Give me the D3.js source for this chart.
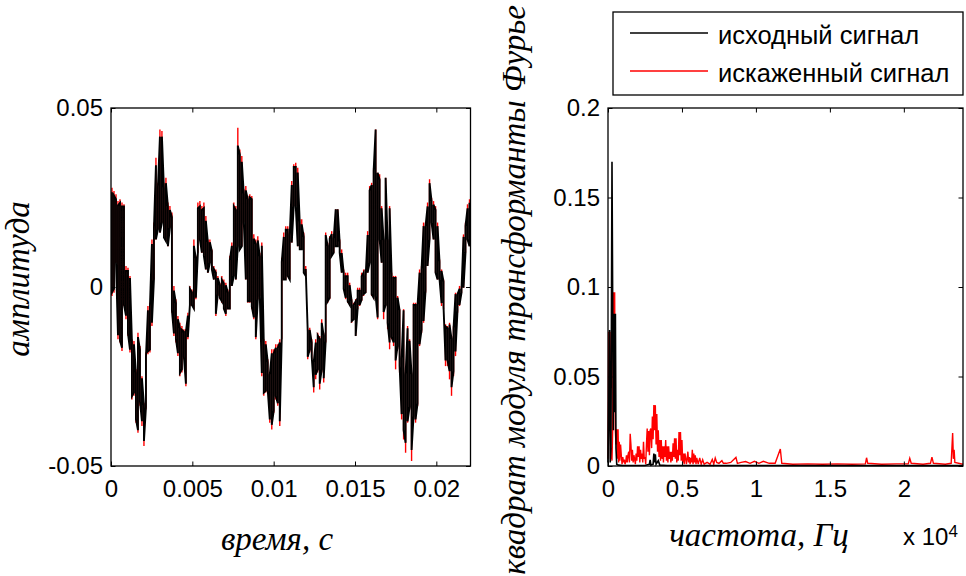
<!doctype html>
<html lang="ru">
<head>
<meta charset="utf-8">
<script src="https://d3js.org/d3.v7.min.js"></script>
<style>
  body { margin: 0; background: #fff; }
  svg { display: block; }
  .tick text { font-family: "Liberation Sans", Arial, sans-serif; font-size: 24px; fill: #000; }
  .domain { display: none; }
  .tick line { stroke: #000; stroke-width: 1; }
  .lbl { font-family: "Liberation Serif", "Times New Roman", serif; font-style: italic; font-size: 33px; fill: #000; }
  .leg { font-family: "Liberation Sans", Arial, sans-serif; font-size: 25.5px; fill: #000; }
  .mult { font-family: "Liberation Sans", Arial, sans-serif; font-size: 24px; fill: #000; }
</style>
</head>
<body>
<svg width="966" height="576"></svg>
<script>
// time signal envelope per sample column, in units of 1e-3 (amplitude)
const redHi = [27.7,26.8,25.9,24.0,24.5,23.6,23.1,5.9,5.4,3.1,-14.6,-15.1,-23.0,-12.8,-16.5,-24.9,-32.3,-18.3,-5.3,-4.4,
  13.3,18.0,36.1,29.1,44.0,43.6,29.1,30.5,23.6,22.6,20.8,0.3,-3.4,-8.1,-10.0,-10.9,-11.8,-11.8,-7.2,0.3,
  -0.7,13.3,8.7,23.6,24.0,22.6,23.6,19.8,13.3,13.3,10.5,5.9,4.9,3.1,1.2,3.1,2.1,1.2,-0.7,8.7,
  12.4,23.6,22.6,44.5,38.4,36.6,27.3,28.2,25.4,25.9,25.4,14.7,13.3,14.2,9.6,12.4,-14.6,-15.1,-20.2,-23.9,
  -17.4,-17.4,-16.0,-16.0,-14.6,8.2,15.2,17.0,17.0,
  15.2,29.6,34.3,34.7,33.3,18.9,18.9,15.2,5.9,-11.8,-11.4,-14.6,-20.2,-14.6,-12.8,-13.7,-9.0,-12.8,15.2,12.4,
  14.2,15.6,14.2,21.7,21.7,13.3,10.5,4.9,4.0,4.0,1.2,-3.4,-4.4,-3.4,-0.2,-0.2,4.0,4.9,4.0,15.6,
  28.2,29.1,33.3,44.0,31.9,31.5,22.6,13.3,30.5,13.3,22.6,4.0,3.1,3.1,-2.5,-6.2,-19.3,-6.2,-23.9,-10.9,
  -14.6,-23.9,-4.4,-4.4,-4.4,4.9,5.9,18.0,18.0,23.6,30.1,24.9,24.0,22.6,18.0,7.7,4.9,2.1,-10.4,-10.9,
  -10.0,-13.7,-10.9,-1.6,-1.6,0.3,0.3,14.7,18.0,23.1,24.5];
const redLo = [-2.5,-1.6,6.8,-14.6,-15.5,-17.9,-5.3,-9.0,-13.7,-18.3,-31.4,-30.4,-37.9,-40.7,-33.2,-38.8,-44.4,-34.2,-18.8,-18.3,
  -10.9,2.1,13.3,16.1,15.2,18.0,13.8,12.8,11.4,16.6,-7.2,-13.7,-15.5,-19.3,-24.9,-23.9,-20.2,-27.7,-14.6,-5.3,
  -5.3,-6.2,-3.4,9.6,13.3,9.6,8.7,4.9,4.0,6.8,4.9,2.1,-8.1,-2.5,-3.4,-4.4,-6.2,-8.1,-6.2,-6.2,
  0.3,3.1,2.1,11.4,10.5,11.4,18.0,2.1,-4.4,-4.4,-6.2,-9.0,-14.6,-3.4,-2.5,-24.9,-30.4,-29.5,-29.5,-37.9,
  -39.8,-35.1,-31.4,-33.2,-38.8,-14.6,2.1,2.1,3.1,
  2.1,12.4,22.6,22.6,11.4,10.5,10.5,4.0,3.1,-20.2,-18.3,-20.2,-29.5,-25.8,-23.9,-28.6,-23.9,-26.7,-15.5,-4.4,
  -3.4,8.7,9.6,11.4,11.4,9.6,4.0,-0.7,-3.4,-4.4,-5.3,-10.0,-9.0,-13.7,-6.2,-5.3,-3.9,-2.5,-1.6,4.0,
  6.8,-2.5,-3.4,-2.5,-9.0,13.3,6.8,-9.0,-5.3,-11.8,-17.4,-14.6,-16.5,-23.0,-17.4,-23.9,-37.0,-42.6,-46.3,-37.9,
  -34.2,-48.6,-37.0,-37.9,-33.2,-16.5,-12.8,-10.0,-1.6,5.9,13.3,18.0,13.3,4.0,2.1,2.1,-5.3,-6.2,-22.1,-22.1,
  -25.8,-30.4,-24.9,-19.3,-7.2,-5.3,-1.6,-0.2,9.6,13.3,11.4];
const blackHi = [26.5,25.5,24.5,22.8,23.5,22.5,22.5,4.5,4.5,2.5,-15.5,-16.0,-24.0,-14.0,-17.5,-25.5,-33.0,-19.5,-6.5,-5.5,
  12.0,16.5,34.0,28.0,42.0,42.0,27.5,29.0,22.5,21.5,19.5,-1.0,-4.5,-9.0,-11.5,-12.0,-12.5,-12.5,-8.0,-0.5,
  -1.5,11.5,8.0,22.0,22.5,21.5,22.0,18.5,12.5,12.5,10.0,5.0,4.0,2.5,0.5,2.0,1.0,0.5,-1.5,7.5,
  11.5,22.5,21.5,39.5,37.0,35.0,26.0,27.0,24.5,25.0,24.5,13.5,12.0,13.0,8.5,11.5,-15.5,-16.0,-21.0,-24.5,
  -18.5,-18.5,-17.0,-17.0,-15.5,7.0,14.0,16.0,16.0,
  14.5,28.5,33.5,33.5,32.0,18.0,17.5,14.0,5.0,-12.5,-12.0,-15.5,-21.0,-15.5,-13.5,-14.5,-10.0,-13.5,14.5,11.5,
  13.5,14.8,13.5,21.7,21.7,12.5,9.5,4.0,3.0,3.0,0.5,-4.0,-5.0,-4.0,-1.0,-1.0,3.0,4.0,3.0,14.5,
  27.0,28.5,32.5,44.0,31.9,30.0,22.0,13.0,30.5,13.0,22.0,3.5,2.5,2.5,-3.0,-6.5,-20.0,-6.5,-24.5,-11.5,
  -15.0,-24.5,-5.0,-5.0,-5.0,4.0,5.0,17.0,17.0,22.5,29.0,24.0,23.0,21.5,17.0,7.0,4.5,1.5,-11.0,-11.5,
  -10.5,-14.5,-11.5,-2.0,-2.0,-0.5,-0.5,14.0,17.0,22.0,23.5];
const blackLo = [-1.5,-0.5,6.8,-13.5,-15.0,-17.0,-5.0,-8.0,-13.0,-17.5,-30.5,-29.5,-37.0,-40.0,-32.0,-37.5,-43.0,-33.5,-18.0,-17.5,
  -10.0,2.1,13.3,16.1,15.2,18.0,13.8,12.8,11.4,16.6,-6.5,-13.0,-14.5,-18.5,-24.0,-23.0,-19.5,-27.0,-14.0,-5.0,
  -5.0,-6.0,-3.0,9.6,13.3,9.6,8.7,4.9,4.0,6.8,4.9,2.1,-7.5,-2.0,-3.0,-4.0,-6.0,-7.5,-6.0,-6.0,
  0.3,3.1,2.1,11.4,10.5,11.4,18.0,2.1,-4.0,-4.0,-5.5,-8.5,-14.0,-3.4,-2.5,-24.0,-29.5,-29.0,-29.0,-37.0,
  -38.5,-34.5,-30.5,-32.5,-37.5,-14.0,2.1,2.1,3.1,
  2.1,12.4,22.6,22.6,11.4,10.5,10.5,4.0,3.1,-19.5,-17.5,-19.5,-28.0,-24.5,-23.0,-27.0,-23.0,-25.5,-15.0,-4.0,
  -3.0,8.7,9.6,11.4,11.4,9.6,4.0,-0.5,-3.0,-4.0,-5.0,-9.5,-9.0,-13.7,-6.0,-5.0,-3.5,-2.0,-1.5,4.0,
  6.8,-2.0,-3.0,-2.5,-8.5,13.3,6.8,-7.0,-5.0,-10.0,-15.5,-14.0,-15.5,-20.5,-16.5,-22.0,-35.5,-40.0,-43.5,-37.5,
  -33.5,-45.5,-36.0,-37.0,-32.5,-16.0,-12.0,-9.5,-1.0,5.9,13.3,18.0,13.3,4.0,2.1,2.1,-4.5,-5.5,-20.5,-20.5,
  -23.5,-28.0,-23.5,-18.0,-6.5,-5.0,-1.6,-0.2,9.6,13.3,11.4];

const tMax = 0.0221;
const timeTicks = [0, 0.005, 0.01, 0.015, 0.02];
const timeTickLabels = ["0", "0.005", "0.01", "0.015", "0.02"];
const ampTicks = [-0.05, 0, 0.05];
const ampTickLabels = ["-0.05", "0", "0.05"];

// spectra: frequency (Hz) and squared magnitude
const redF = [0,45,90,135,180,225,270,315,360,405,450,495,540,585,630,680,720,760,800,850,
  900,950,1000,1050,1100,1150,1200,1250,1300,1350,1400,1450,1500,1550,1600,1650,1700,1750,1800,1850,
  1900,1950,2000,2050,2100,2150,2200,2250,2300,2350,2400,2450,2500,2550,2600,2650,2700,2750,2800,2850,
  2900,2950,3000,3050,3100,3150,3200,3250,3300,3350,3400,3450,3500,3550,3600,3650,3700,3750,3800,3850,
  3900,3950,4000,4050,4100,4150,4200,4250,4300,4350,4400,4450,4500,4550,4600,4650,4700,4750,4800,4850,
  4900,4950,5000,5050,5100,5150,5200,5250,5300,5350,5400,5450,5500,5550,5600,5650,5700,5750,5800,5850,
  5900,5950,6000,6100,6200,6300,6400,6500,6700,6900,7050,7150,7250,7350,7500,7700,7800,8000,8300,8650,
  8750,9000,9300,9600,9900,10200,10500,10900,11300,11650,11750,12500,13500,14500,15500,16500,17400,17480,17560,18500,
  19500,20300,20400,20500,21300,21800,21900,22000,22800,23200,23300,23350,23400,23450,24000];
const redP = [0.004,0.075,0.03,0.075,0.004,0.01,0.003,0.02,0.097,0.06,0.097,0.02,0.012,0.0205,0.004,0.0205,0.002,0.0136,0.003,0.012,
  0.006,0.001,0.005,0.002,0.0035,0.001,0.0024,0.006,0.002,0.006,0.008,0.002,0.018,0.012,0.003,0.009,0.002,0.006,0.004,0.001,
  0.007,0.003,0.011,0.005,0.011,0.002,0.009,0.004,0.007,0.002,0.0136,0.004,0.005,0.001,0.012,0.021,0.008,0.0195,0.006,0.02,
  0.021,0.01,0.0276,0.015,0.034,0.02,0.034,0.012,0.029,0.008,0.02,0.005,0.0145,0.003,0.0145,0.004,0.011,0.002,0.011,0.005,
  0.0145,0.003,0.011,0.002,0.011,0.004,0.008,0.002,0.008,0.003,0.0127,0.005,0.0155,0.004,0.0155,0.002,0.009,0.003,0.019,0.006,
  0.019,0.003,0.0145,0.002,0.007,0.001,0.007,0.0045,0.001,0.004,0.008,0.002,0.005,0.001,0.0045,0.002,0.009,0.001,0.007,0.002,
  0.006,0.001,0.0045,0.001,0.0045,0.001,0.0035,0.001,0.002,0.001,0.0037,0.001,0.0045,0.002,0.0015,0.003,0.0015,0.0015,0.002,0.0048,
  0.0015,0.002,0.0025,0.0015,0.0026,0.0015,0.0026,0.0015,0.0015,0.0095,0.0015,0.001,0.0012,0.001,0.0012,0.001,0.0012,0.0046,0.0015,0.001,
  0.0012,0.0012,0.0043,0.0015,0.001,0.0015,0.005,0.0015,0.001,0.0015,0.0184,0.004,0.009,0.002,0.001];
const blackF = [0,45,100,150,200,270,320,360,400,450,500,540,590,700,1000,2500,2800,2850,2900,3050,3100,3150,3200,3250,3400,3500,4000,24000];
const blackP = [0.002,0.03,0.076,0.002,0.01,0.17,0.085,0.02,0.085,0.03,0.085,0.01,0.001,0.0005,0.0003,0.0003,0.001,0.0034,0.0005,0.001,0.007,0.002,0.0065,0.001,0.003,0.0005,0.0003,0.0002];

const fMax = 24000;
const freqTicks = [0, 5000, 10000, 15000, 20000];
const freqTickLabels = ["0", "0.5", "1", "1.5", "2"];
const powTicks = [0, 0.05, 0.1, 0.15, 0.2];
const powTickLabels = ["0", "0.05", "0.1", "0.15", "0.2"];

const seriesNames = ["исходный сигнал", "искаженный сигнал"];
const seriesColors = ["#000000", "#ff0000"];

const svg = d3.select("svg");
const tick = 4.5;

function box(g, x, y, xt, xl, yt, yl) {
  const [x0, x1] = x.range(), [y1, y0] = y.range();
  g.append("g").attr("transform", `translate(0,${y1})`)
    .call(d3.axisBottom(x).tickValues(xt).tickFormat((d, i) => xl[i]).tickSizeInner(-tick).tickSizeOuter(0).tickPadding(14));
  g.append("g").attr("transform", `translate(0,${y0})`)
    .call(d3.axisTop(x).tickValues(xt).tickFormat("").tickSizeInner(-tick).tickSizeOuter(0));
  g.append("g").attr("transform", `translate(${x0},0)`)
    .call(d3.axisLeft(y).tickValues(yt).tickFormat((d, i) => yl[i]).tickSizeInner(-tick).tickSizeOuter(0).tickPadding(8));
  g.append("g").attr("transform", `translate(${x1},0)`)
    .call(d3.axisRight(y).tickValues(yt).tickFormat("").tickSizeInner(-tick).tickSizeOuter(0));
  g.append("rect").attr("x", x0).attr("y", y0).attr("width", x1 - x0).attr("height", y1 - y0)
    .attr("fill", "none").attr("stroke", "#000").attr("stroke-width", 1.3);
}

// left: time signals
const xT = d3.scaleLinear().domain([0, tMax]).range([111, 470.5]);
const yA = d3.scaleLinear().domain([-0.05, 0.05]).range([466, 108]);
const dt = tMax / redHi.length;
const tAt = i => (i + 0.5) * dt;

// black: zigzag through each column's extremes
function envPath(hi, lo) {
  const pts = [];
  hi.forEach((h, i) => {
    const a = [xT(tAt(i)), yA(h * 1e-3)], b = [xT(tAt(i)), yA(lo[i] * 1e-3)];
    if (i % 2) pts.push(b, a); else pts.push(a, b);
  });
  return d3.line()(pts);
}

const left = svg.append("g");
// red: vertical strokes per column, mostly hidden under black
left.append("g").selectAll("line").data(redHi).join("line")
  .attr("x1", (d, i) => xT(tAt(i))).attr("x2", (d, i) => xT(tAt(i)))
  .attr("y1", d => yA(d * 1e-3)).attr("y2", (d, i) => yA(redLo[i] * 1e-3))
  .attr("stroke", seriesColors[1]).attr("stroke-width", 1.4);
left.append("path").attr("d", envPath(blackHi, blackLo)).attr("fill", "none")
  .attr("stroke", seriesColors[0]).attr("stroke-width", 1.9);
box(left, xT, yA, timeTicks, timeTickLabels, ampTicks, ampTickLabels);

left.append("text").attr("class", "lbl").attr("text-anchor", "middle")
  .attr("transform", "translate(29,279) rotate(-90)").text("амплитуда");
left.append("text").attr("class", "lbl").attr("text-anchor", "middle")
  .attr("x", 277).attr("y", 550).text("время, с");

// right: spectra
const xF = d3.scaleLinear().domain([0, fMax]).range([608, 963]);
const yP = d3.scaleLinear().domain([0, 0.2]).range([466, 108]);
const specLine = d3.line().x(d => xF(d[0])).y(d => yP(d[1]));

const right = svg.append("g");
right.append("path").attr("d", specLine(redF.map((f, i) => [f, redP[i]])))
  .attr("fill", "none").attr("stroke", seriesColors[1]).attr("stroke-width", 1.4);
right.append("path").attr("d", specLine(blackF.map((f, i) => [f, blackP[i]])))
  .attr("fill", "none").attr("stroke", seriesColors[0]).attr("stroke-width", 1.6);
box(right, xF, yP, freqTicks, freqTickLabels, powTicks, powTickLabels);

right.append("text").attr("class", "lbl").attr("text-anchor", "middle")
  .attr("transform", "translate(525,290) rotate(-90)").text("квадрат модуля трансформанты Фурье");
right.append("text").attr("class", "lbl").attr("text-anchor", "middle")
  .attr("x", 759).attr("y", 546).text("частота, Гц");
const mult = right.append("text").attr("class", "mult").attr("x", 903).attr("y", 545);
mult.append("tspan").text("x 10");
mult.append("tspan").attr("font-size", "17px").attr("dy", -8).text("4");

// legend
const leg = svg.append("g");
leg.append("rect").attr("x", 613).attr("y", 12).attr("width", 350).attr("height", 83)
  .attr("fill", "#fff").attr("stroke", "#000").attr("stroke-width", 1.3);
seriesNames.forEach((name, i) => {
  const yy = 33 + i * 38;
  leg.append("line").attr("x1", 630).attr("x2", 708).attr("y1", yy).attr("y2", yy)
    .attr("stroke", seriesColors[i]).attr("stroke-width", 1.5);
  leg.append("text").attr("class", "leg").attr("x", 718).attr("y", yy + 11).text(name);
});
</script>
</body>
</html>
